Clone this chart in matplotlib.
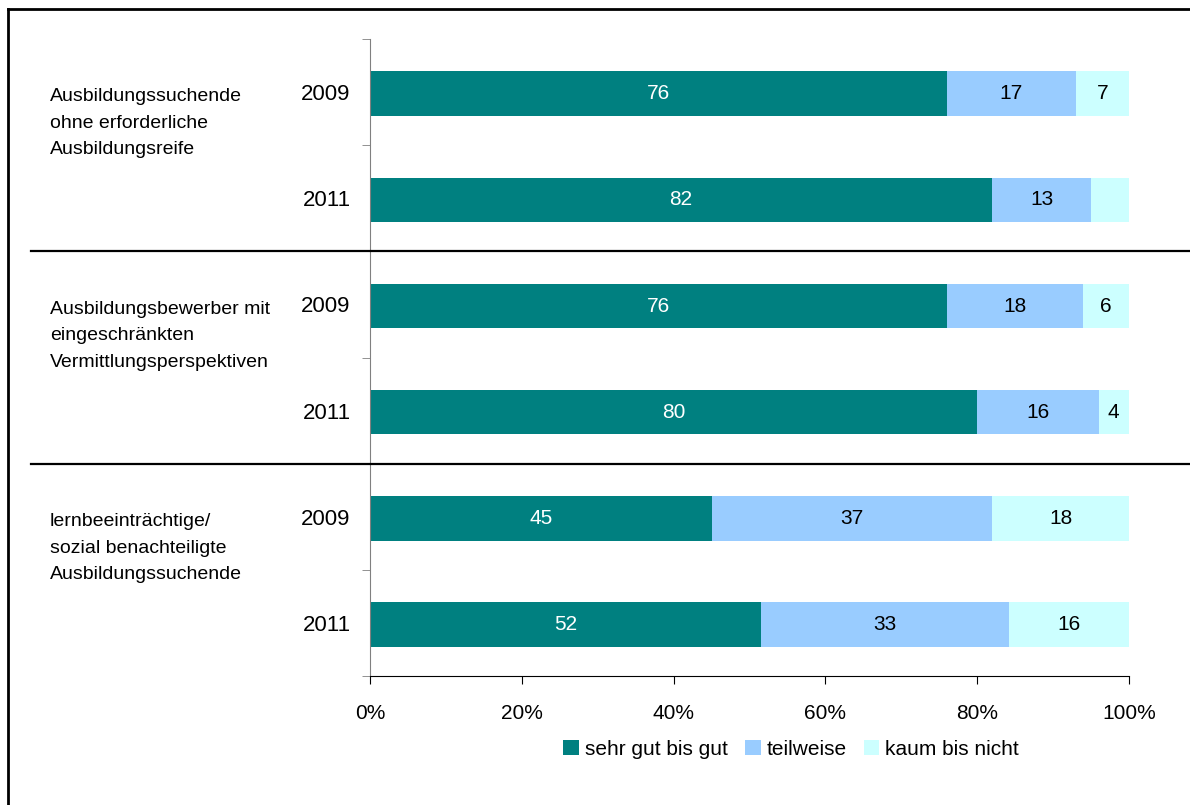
import matplotlib.pyplot as plt
import matplotlib.transforms as mtransforms
from matplotlib.lines import Line2D
import numpy as np

plt.rcParams['font.family'] = ['Liberation Sans', 'DejaVu Sans']

# Daten
gruppen = ['Ausbildungssuchende\nohne erforderliche\nAusbildungsreife',
           'Ausbildungsbewerber mit\neingeschränkten\nVermittlungsperspektiven',
           'lernbeeinträchtige/\nsozial benachteiligte\nAusbildungssuchende']
jahre = ['2009', '2011', '2009', '2011', '2009', '2011']
serien = ['sehr gut bis gut', 'teilweise', 'kaum bis nicht']

sehr_gut = [76, 82, 76, 80, 45, 52]
teilweise = [17, 13, 18, 16, 37, 33]
kaum = [7, 5, 6, 4, 18, 16]

# Beschriftungen der Segmente (leer = keine Zahl im Original)
beschr_sehr_gut = ['76', '82', '76', '80', '45', '52']
beschr_teilweise = ['17', '13', '18', '16', '37', '33']
beschr_kaum = ['7', '', '6', '4', '18', '16']

farben = ['#008080', '#99CCFF', '#CCFFFF']
textfarben = ['white', 'black', 'black']

fig = plt.figure(figsize=(11.9, 8.05), dpi=100)
ax = fig.add_axes([0.3109, 0.1602, 0.6378, 0.7914])

# 100%-gestapelt
werte = np.array([sehr_gut, teilweise, kaum], dtype=float)
anteile = werte / werte.sum(axis=0) * 100
beschriftungen = [beschr_sehr_gut, beschr_teilweise, beschr_kaum]

y = np.arange(len(jahre))
links = np.zeros(len(jahre))
for i in range(3):
    balken = ax.barh(y + 0.015, anteile[i], left=links, height=0.42,
                     color=farben[i], label=serien[i])
    ax.bar_label(balken, labels=beschriftungen[i], label_type='center',
                 color=textfarben[i], fontsize=15)
    links += anteile[i]

ax.set_xlim(0, 100)
ax.set_ylim(5.5, -0.5)
ax.set_yticks(y, jahre)
ax.set_yticks(np.arange(-0.5, 6, 1), minor=True)
ax.tick_params(axis='y', which='major', length=0, pad=14, labelsize=16)
ax.tick_params(axis='y', which='minor', length=6, color='#808080')
ax.set_xticks(range(0, 101, 20), [f'{v}%' for v in range(0, 101, 20)])
ax.tick_params(axis='x', length=6, pad=14, labelsize=15)

for s in ['top', 'right']:
    ax.spines[s].set_visible(False)
ax.spines['left'].set_color('#808080')

# Trennlinien zwischen den Gruppen
trans = mtransforms.blended_transform_factory(fig.transFigure, ax.transData)
for yv in [1.5, 3.5]:
    fig.add_artist(Line2D([0.026, 1.0], [yv, yv], transform=trans,
                          color='black', lw=1.6))

# Gruppenbeschriftungen
for k, text in enumerate(gruppen):
    fig.text(0.042, 2 * k - 0.035, text, transform=trans, va='top', ha='left',
             fontsize=14, linespacing=1.73)

fig.legend(loc='center', bbox_to_anchor=(0.665, 0.069), ncol=3, frameon=False,
           handlelength=0.75, handleheight=0.75, handletextpad=0.3,
           columnspacing=0.8, fontsize=15)

# Rahmen links und oben
fig.add_artist(Line2D([0.007, 0.007], [0, 0.989], transform=fig.transFigure,
                      color='black', lw=2))
fig.add_artist(Line2D([0.007, 1.0], [0.989, 0.989], transform=fig.transFigure,
                      color='black', lw=2))

fig.savefig('out.png', dpi=100)
